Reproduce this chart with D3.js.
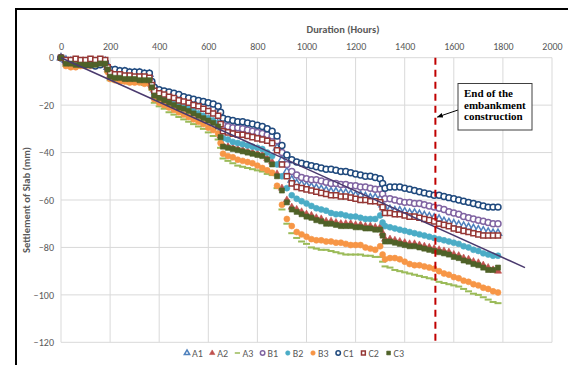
<!DOCTYPE html>
<html>
<head>
<meta charset="utf-8">
<script src="https://cdn.jsdelivr.net/npm/d3@7"></script>
<style>
  body { margin: 0; background: #fff; }
  svg text { font-family: Carlito, Lato, "Open Sans", sans-serif; }
</style>
</head>
<body>
<svg id="chart" width="568" height="365"></svg>
<script>
// readings (hours) shared by all gauges
const hours = [
  0, 20, 40, 60, 80, 100, 120, 140, 160, 180,
  190, 200, 220, 240, 260, 280, 300, 320, 340, 360,
  370, 380, 400, 420, 440, 460, 480, 500, 520, 540, 560, 580, 600, 620, 640,
  650, 660, 680, 700, 720, 740, 760, 780, 800, 820, 840, 860,
  880, 900, 920, 940, 960, 980, 1000, 1020, 1040, 1060, 1080, 1100, 1120, 1140, 1160, 1180, 1200, 1220, 1240, 1260, 1280, 1300,
  1310, 1320, 1340, 1360, 1380, 1400, 1420, 1440, 1460, 1480, 1500, 1520, 1540, 1560, 1580, 1600, 1620, 1640, 1660, 1680, 1700, 1720, 1740, 1760, 1780
];

const a1 = [
  0, -1, -1.5, -1.5, -2, -2, -2.5, -2, -2, -1.5,
  -4, -5.5, -5.5, -6, -6, -6.5, -6.5, -6.5, -7, -7,
  -11, -13.5, -14.5, -15, -16, -16.5, -17.5, -18, -18.5, -19.5, -20, -20.5, -21.5, -22, -23,
  -27, -29.5, -30.5, -31, -31, -31.5, -32, -32.5, -33, -33.5, -34, -34.5,
  -38, -43, -48, -51.5, -53, -53.5, -54, -54.5, -55, -55.5, -56, -56.5, -56.5, -57, -57, -57.5, -58, -58, -58.5, -59, -59, -59.5,
  -62, -64, -64, -64.5, -64.5, -65, -65.5, -65.5, -66, -66.5, -67, -67.5, -68, -69, -69.5, -70, -70.5, -71, -71.5, -72, -72.5, -73, -73.5, -74, -74
];
const a2 = [
  0, -2, -2.5, -2.5, -2.5, -3, -3, -3, -3, -2.5,
  -5, -7.5, -8, -8, -8.5, -8.5, -8.5, -9, -9, -9,
  -12, -16, -17, -18, -19, -19.5, -20.5, -21.5, -22, -23, -24, -25, -26, -27, -28.5,
  -33, -37, -37.5, -38, -38.5, -39, -39.5, -40, -40.5, -41, -42.5, -44,
  -49, -55, -60, -63, -64, -65, -66, -66.5, -67.5, -68, -69, -69, -69.5, -70, -70, -70, -70.5, -70.5, -71, -71, -71.5, -71.5,
  -74, -76.5, -76.5, -77, -77.5, -78, -78.5, -78.5, -79, -79.5, -80, -80.5, -81, -81.5, -82, -83, -83.5, -84.5, -85, -86, -86.5, -87.5, -88.5, -89.5, -90
];
const a3 = [
  0, -3.5, -4, -4, -4, -4, -4, -3.5, -3.5, -3.5,
  -6, -9.5, -10, -10.5, -10.5, -11, -11, -11, -11.5, -11.5,
  -13.5, -19, -20.5, -21.5, -23, -24, -25, -26, -27, -28, -29, -30, -31.5, -33, -34.5,
  -38, -42.5, -43.5, -44.5, -45.5, -46, -46.5, -47, -47.5, -48, -49, -49.5,
  -55, -64, -70, -74, -76, -77.5, -78.5, -80, -80.5, -81, -81, -81.5, -82, -82.5, -83, -83, -83, -83, -83.5, -83.5, -84, -84,
  -86, -88, -88.5, -89.5, -90, -90.5, -91, -91.5, -92, -92.5, -93, -93.5, -94.5, -95, -95.5, -96, -96.5, -97.5, -98.5, -99.5, -100, -101, -102, -103, -103.5
];
const b1 = [
  0, -1.5, -2, -2, -2, -2.5, -2.5, -2.5, -2, -2,
  -4, -6, -6, -6.5, -6.5, -7, -7, -7, -7.5, -7.5,
  -11, -13.5, -14.5, -15, -15.5, -16.5, -17, -17.5, -18, -19, -19.5, -20, -21, -21.5, -22.5,
  -26, -28.5, -29, -29.5, -29.5, -30, -30.5, -31, -31.5, -32, -32.5, -33,
  -35, -40, -45, -48, -49.5, -50.5, -51, -51.5, -51.5, -52, -52.5, -53, -53, -53.5, -53.5, -54, -54, -54.5, -54.5, -55, -55.5, -55.5,
  -57.5, -59.5, -59.5, -60, -60.5, -61, -61, -61.5, -61.5, -62, -62.5, -63, -63.5, -64, -65, -65.5, -66, -67, -67.5, -68, -68.5, -69, -69.5, -70, -70
];
const b2 = [
  0, -2, -2, -2.5, -2.5, -2.5, -3, -3, -2.5, -2.5,
  -5, -7, -7.5, -8, -8, -8, -8.5, -8.5, -8.5, -9,
  -12, -15.5, -16.5, -17.5, -18.5, -19, -20, -21, -21.5, -22.5, -23.5, -24.5, -25.5, -26.5, -27.5,
  -31, -34, -34.5, -35.5, -36, -36.5, -37, -37.5, -38, -38.5, -40, -41.5,
  -45, -50, -55, -58, -59.5, -60.5, -61.5, -62.5, -63.5, -64, -64.5, -65.5, -66, -66, -66.5, -67, -67, -67.5, -68, -68, -68, -66.5,
  -69.5, -71, -71.5, -72, -72.5, -73, -73.5, -74, -74.5, -75, -75.5, -76, -76.5, -77, -77.5, -78, -78.5, -79.5, -80, -81, -81.5, -82.5, -83, -83.5, -83.5
];
const b3 = [
  0, -3.5, -4, -4, -3.5, -3.5, -3.5, -3.5, -3, -3,
  -6, -9, -9.5, -10, -10, -10.5, -10.5, -10.5, -11, -11,
  -13, -17.5, -19, -20, -21, -22, -23, -24, -25, -26, -27, -28, -29.5, -30.5, -32,
  -36, -40.5, -41.5, -42, -43, -43.5, -44, -44.5, -45.5, -46.5, -47.5, -48.5,
  -54, -62, -68, -71, -73.5, -74.5, -75.5, -76.5, -77, -77, -77.5, -77.5, -78, -78, -78.5, -79, -79, -79, -80, -80.5, -81, -79.5,
  -83, -85, -84.5, -84.5, -85, -86, -87, -87.5, -87.5, -88, -88.5, -89, -90, -91, -91.5, -92.5, -93, -94, -94.5, -95.5, -96, -97, -97.5, -98.5, -99
];
const c1 = [
  0, -1.5, -1.5, -2, -2.5, -3, -3, -3.5, -3, -2,
  -4, -5, -5, -5.5, -5.5, -6, -6, -6, -6.5, -6.5,
  -10, -12.5, -13.5, -14, -14.5, -15, -15.5, -16.5, -17, -17.5, -18, -18.5, -19, -19.5, -20.5,
  -23, -25.5, -26, -26.5, -27, -27, -27.5, -28, -28.5, -29, -30, -31,
  -33, -37, -41, -43, -44, -44.5, -45, -45.5, -46, -46.5, -47, -47, -47.5, -48, -48, -48.5, -49, -49.5, -50, -50, -50.5, -51,
  -53, -55, -54.5, -54.5, -54.5, -55, -55.5, -56, -56.5, -57, -57.5, -58, -58, -58.5, -59, -59.5, -60, -60.5, -61, -61.5, -62, -62.5, -63, -63, -63
];
const c2 = [
  0, -1, -1, -0.5, -1, -1, -0.5, -1, -0.5, -1,
  -4, -6.5, -7, -7, -7.5, -7.5, -8, -8, -8, -8.5,
  -11.5, -14, -15, -15.5, -16.5, -17, -18, -18.5, -19, -20, -20.5, -21.5, -22.5, -23.5, -24.5,
  -28, -31, -31.5, -32, -32.5, -32.5, -33, -33.5, -34, -34.5, -35, -36,
  -39, -45, -50, -53, -54.5, -55, -55.5, -56, -56.5, -57, -57.5, -58, -58, -58.5, -58.5, -59, -59.5, -60, -60, -60.5, -60.5, -61,
  -63, -65.5, -65.5, -66, -66, -66.5, -67, -67, -67.5, -68, -68.5, -69, -70, -70.5, -71, -72, -72.5, -73, -73.5, -74, -74.5, -75, -75, -75, -75
];
const c3 = [
  0, -2.5, -2.5, -3, -3, -3, -3, -3, -2.5, -2.5,
  -5, -8, -8.5, -8.5, -9, -9, -9, -9.5, -9.5, -9.5,
  -12.5, -16, -17, -18, -19, -20, -21, -21.5, -22.5, -23.5, -24.5, -25.5, -26.5, -27.5, -29,
  -33.5, -37.5, -38, -38.5, -39, -39.5, -40, -40.5, -41, -41.5, -43, -45,
  -50, -56, -61, -64, -65, -66, -67, -67.5, -68.5, -69, -70, -70, -70.5, -71, -71, -71, -71.5, -71.5, -72, -72, -72.5, -72.5,
  -75, -77.5, -77.5, -78, -78.5, -79, -79.5, -79.5, -80, -80.5, -81, -81.5, -82, -82.5, -83, -84, -84.5, -85.5, -86, -87, -87.5, -88.5, -89.5, -89.5, -88.5
];

const seriesNames = ['A1', 'A2', 'A3', 'B1', 'B2', 'B3', 'C1', 'C2', 'C3'];
const seriesValues = [a1, a2, a3, b1, b2, b3, c1, c2, c3];

// linear trend line end points
const trendHours = [0, 1890];
const trendValues = [0, -88.5];

const endOfConstruction = 1525;
const xTicks = [0, 200, 400, 600, 800, 1000, 1200, 1400, 1600, 1800, 2000];
const yTicks = [0, -20, -40, -60, -80, -100, -120];

// marker styles, same order as seriesNames
const styles = [
  { shape: 'triangle', color: '#4F81BD', open: true },
  { shape: 'triangle', color: '#C0504D', open: false },
  { shape: 'dash', color: '#9BBB59', open: false },
  { shape: 'circle', color: '#8064A2', open: true },
  { shape: 'circle', color: '#4BACC6', open: false },
  { shape: 'circle', color: '#F79646', open: false },
  { shape: 'circle', color: '#1F497D', open: true },
  { shape: 'square', color: '#953735', open: true },
  { shape: 'square', color: '#4F6228', open: false }
];

const svg = d3.select('#chart');

const x = d3.scaleLinear().domain([0, 2000]).range([61, 552]);
const y = d3.scaleLinear().domain([0, -120]).range([57.7, 342.3]);

// outer frame
svg.append('rect')
  .attr('x', 16).attr('y', 9)
  .attr('width', 600).attr('height', 420)
  .attr('fill', 'none')
  .attr('stroke', '#000')
  .attr('stroke-width', 2);

// grid
const grid = svg.append('g').attr('class', 'grid');
grid.selectAll('.vx')
  .data(xTicks)
  .enter()
  .append('line')
  .attr('x1', d => x(d)).attr('x2', d => x(d))
  .attr('y1', y(0)).attr('y2', y(-120))
  .attr('stroke', '#D9D9D9').attr('stroke-width', 1);
grid.selectAll('.hy')
  .data(yTicks)
  .enter()
  .append('line')
  .attr('x1', x(0)).attr('x2', x(2000))
  .attr('y1', d => y(d)).attr('y2', d => y(d))
  .attr('stroke', '#D9D9D9').attr('stroke-width', 1);

// axes (labels only, Excel style)
const xAxis = svg.append('g')
  .attr('transform', `translate(0,${y(0) - 6})`)
  .call(d3.axisTop(x).tickValues(xTicks).tickSize(0).tickPadding(2).tickFormat(d3.format('d')));
xAxis.select('.domain').remove();
xAxis.selectAll('text').attr('fill', '#595959').attr('font-size', 10)
  .style('font-family', 'Carlito, Lato, "Open Sans", sans-serif');

const yAxis = svg.append('g')
  .attr('transform', `translate(${x(0) - 7},0)`)
  .call(d3.axisLeft(y).tickValues(yTicks).tickSize(0).tickPadding(0).tickFormat(d3.format('d')));
yAxis.select('.domain').remove();
yAxis.selectAll('text').attr('fill', '#595959').attr('font-size', 10)
  .style('font-family', 'Carlito, Lato, "Open Sans", sans-serif');

svg.append('text')
  .attr('x', 343).attr('y', 33)
  .attr('text-anchor', 'middle')
  .attr('font-size', 10.5).attr('font-weight', 'bold')
  .attr('fill', '#595959')
  .text('Duration (Hours)');

svg.append('text')
  .attr('transform', `translate(30,${(y(0) + y(-120)) / 2}) rotate(-90)`)
  .attr('text-anchor', 'middle')
  .attr('font-size', 10.5).attr('font-weight', 'bold')
  .attr('fill', '#595959')
  .text('Settlement of Slab (mm)');

// marker drawing helper
function drawMarker(sel, st, scale) {
  const k = scale || 1;
  if (st.shape === 'dash') {
    sel.append('rect')
      .attr('x', -3.5 * k).attr('y', -1 * k)
      .attr('width', 7 * k).attr('height', 2 * k)
      .attr('fill', st.color);
    return;
  }
  const type = st.shape === 'triangle' ? d3.symbolTriangle
    : st.shape === 'square' ? d3.symbolSquare : d3.symbolCircle;
  const size = st.shape === 'triangle' ? 22 : st.shape === 'square' ? 26 : 28;
  sel.append('path')
    .attr('d', d3.symbol().type(type).size(size * k * k))
    .attr('fill', st.open ? '#fff' : st.color)
    .attr('stroke', st.color)
    .attr('stroke-width', st.open ? 1.5 : 0.6);
}

// data markers
const plot = svg.append('g').attr('class', 'series');
seriesValues.forEach((vals, si) => {
  const pts = hours.map((h, i) => ({ h: h, v: vals[i] }));
  const g = plot.append('g').attr('class', 'series-' + seriesNames[si]);
  g.selectAll('.pt')
    .data(pts)
    .enter()
    .append('g')
    .attr('class', 'pt')
    .attr('transform', d => `translate(${x(d.h)},${y(d.v)})`)
    .each(function () { drawMarker(d3.select(this), styles[si]); });
});

// trend line
const trend = trendHours.map((h, i) => ({ h: h, v: trendValues[i] }));
svg.append('path')
  .datum(trend)
  .attr('fill', 'none')
  .attr('stroke', '#4A3A6E')
  .attr('stroke-width', 1.5)
  .attr('d', d3.line().x(d => x(d.h)).y(d => y(d.v)));

// end of embankment construction
svg.append('line')
  .attr('x1', x(endOfConstruction)).attr('x2', x(endOfConstruction))
  .attr('y1', y(0)).attr('y2', y(-120))
  .attr('stroke', '#C00000')
  .attr('stroke-width', 2)
  .attr('stroke-dasharray', '7,5');

// annotation box and arrow
svg.append('defs').append('marker')
  .attr('id', 'arrow')
  .attr('viewBox', '0 0 10 10')
  .attr('refX', 9).attr('refY', 5)
  .attr('markerWidth', 6).attr('markerHeight', 6)
  .attr('orient', 'auto')
  .append('path')
  .attr('d', 'M0,1 L10,5 L0,9 Z')
  .attr('fill', '#000');

svg.append('line')
  .attr('x1', 458).attr('y1', 110)
  .attr('x2', x(endOfConstruction) + 2).attr('y2', 117)
  .attr('stroke', '#000').attr('stroke-width', 1)
  .attr('marker-end', 'url(#arrow)');

svg.append('rect')
  .attr('x', 458).attr('y', 83.5)
  .attr('width', 74).attr('height', 46.5)
  .attr('fill', '#fff')
  .attr('stroke', '#404040').attr('stroke-width', 1);

const note = svg.append('text')
  .attr('font-size', 11).attr('font-weight', 'bold')
  .attr('fill', '#000')
  .style('font-family', '"Liberation Serif", "Times New Roman", serif');
['End of the', 'embankment', 'construction'].forEach((t, i) => {
  note.append('tspan').attr('x', 464).attr('y', 97 + i * 11.5).text(t);
});

// legend
const legend = svg.append('g').attr('class', 'legend');
seriesNames.forEach((name, i) => {
  const lg = legend.append('g')
    .attr('transform', `translate(${187 + i * 25.2},353)`);
  drawMarker(lg, styles[i], 0.75);
  lg.append('text')
    .attr('x', 5).attr('y', 3.5)
    .attr('font-size', 10)
    .attr('fill', '#595959')
    .text(name);
});
</script>
</body>
</html>
